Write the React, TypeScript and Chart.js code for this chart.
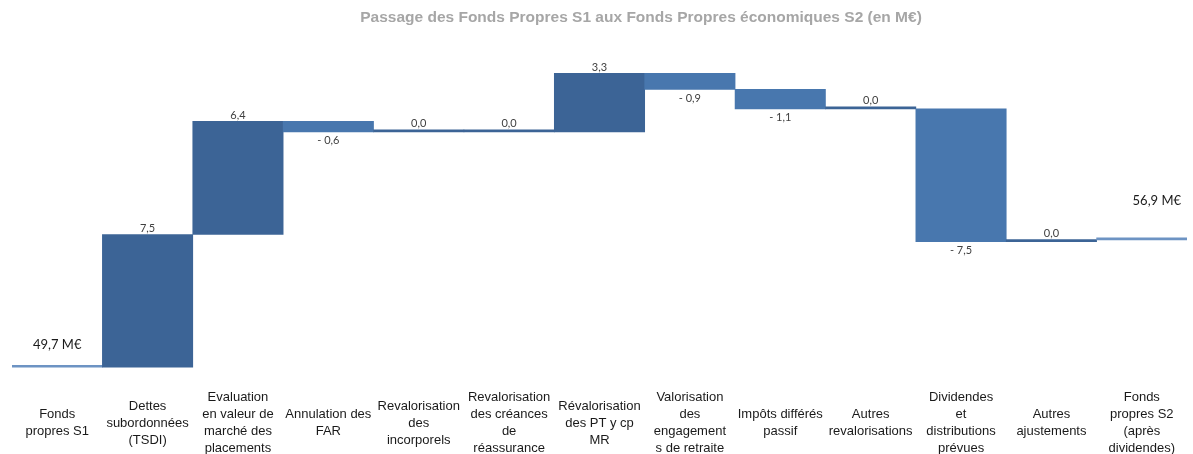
import React, { useEffect, useRef } from 'react';
import { Chart, registerables } from 'chart.js';

Chart.register(...registerables);

const chartTitle = 'Passage des Fonds Propres S1 aux Fonds Propres économiques S2 (en M€)';

const categories: string[][] = [
  ['Fonds', 'propres S1'],
  ['Dettes', 'subordonnées', '(TSDI)'],
  ['Evaluation', 'en valeur de', 'marché des', 'placements'],
  ['Annulation des', 'FAR'],
  ['Revalorisation', 'des', 'incorporels'],
  ['Revalorisation', 'des créances', 'de', 'réassurance'],
  ['Révalorisation', 'des PT y cp', 'MR'],
  ['Valorisation', 'des', 'engagement', 's de retraite'],
  ['Impôts différés', 'passif'],
  ['Autres', 'revalorisations'],
  ['Dividendes', 'et', 'distributions', 'prévues'],
  ['Autres', 'ajustements'],
  ['Fonds', 'propres S2', '(après', 'dividendes)'],
];

const startValue = 49.7;
const deltas = [7.5, 6.4, -0.6, 0.0, 0.0, 3.3, -0.9, -1.1, 0.0, -7.5, 0.0];
const endValue = 56.9;

const yMin = 48.64;
const yMax = 68.19;

const COLOR_UP = '#3c6496';
const COLOR_DOWN = '#4877ae';
const COLOR_ZERO = '#3c6496';
const COLOR_TOTAL = '#6d93c3';

function fmt(v: number): string {
  const s = Math.abs(v).toFixed(1).replace('.', ',');
  return v < 0 ? '- ' + s : s;
}

export default function App() {
  const ref = useRef<HTMLCanvasElement | null>(null);

  useEffect(() => {
    if (!ref.current) return;

    const ranges: [number, number][] = [];
    const colors: string[] = [];
    const kinds: string[] = [];
    ranges.push([startValue, startValue]);
    colors.push(COLOR_TOTAL);
    kinds.push('total');
    let run = startValue;
    deltas.forEach((d) => {
      ranges.push([run, run + d]);
      colors.push(d > 0 ? COLOR_UP : d < 0 ? COLOR_DOWN : COLOR_ZERO);
      kinds.push('delta');
      run += d;
    });
    ranges.push([endValue, endValue]);
    colors.push(COLOR_TOTAL);
    kinds.push('total');

    const labelPlugin = {
      id: 'wfLabels',
      afterDatasetsDraw(chart: any) {
        const ctx = chart.ctx;
        const meta = chart.getDatasetMeta(0);
        ctx.save();
        ctx.textAlign = 'center';
        ctx.textBaseline = 'middle';
        meta.data.forEach((el: any, i: number) => {
          const top = Math.min(el.y, el.base);
          const bottom = Math.max(el.y, el.base);
          if (kinds[i] === 'total') {
            ctx.font = '13px Lato, "Open Sans", sans-serif';
            ctx.fillStyle = '#1a1a1a';
            const v = i === 0 ? startValue : endValue;
            const txt = fmt(v) + ' M€';
            if (i === 0) ctx.fillText(txt, el.x, top - 20);
            else ctx.fillText(txt, el.x + 15, top - 37);
          } else {
            const d = deltas[i - 1];
            ctx.font = '11px Lato, "Open Sans", sans-serif';
            ctx.fillStyle = '#404040';
            if (d < 0) ctx.fillText(fmt(d), el.x, bottom + 9);
            else ctx.fillText(fmt(d), el.x, top - 6);
          }
        });
        ctx.restore();
      },
    };

    const titlePlugin = {
      id: 'wfTitle',
      afterDraw(chart: any) {
        const ctx = chart.ctx;
        ctx.save();
        ctx.font = 'bold 15.5px "Liberation Sans", Arial, sans-serif';
        ctx.fillStyle = '#a6a6a6';
        ctx.textAlign = 'center';
        ctx.textBaseline = 'middle';
        ctx.fillText(chartTitle, 641, 18);
        ctx.restore();
      },
    };

    const chart = new Chart(ref.current, {
      type: 'bar',
      data: {
        labels: categories,
        datasets: [
          {
            data: ranges,
            backgroundColor: colors,
            borderWidth: 0,
            barPercentage: 1,
            categoryPercentage: 1,
            minBarLength: 2,
          },
        ],
      },
      options: {
        responsive: false,
        animation: false,
        layout: { padding: { top: 40, left: 12, right: 6, bottom: 0 } },
        plugins: {
          legend: { display: false },
          title: { display: false },
          tooltip: { enabled: false },
        },
        scales: {
          x: {
            grid: { display: false, drawTicks: false },
            border: { display: false },
            ticks: {
              font: { family: '"Liberation Sans", Arial, sans-serif', size: 13, lineHeight: '17px' },
              color: '#1a1a1a',
              maxRotation: 0,
              minRotation: 0,
              autoSkip: false,
              crossAlign: 'center',
              padding: 11.5,
            },
          },
          y: { display: false, min: yMin, max: yMax },
        },
      },
      plugins: [labelPlugin, titlePlugin],
    } as any);

    return () => chart.destroy();
  }, []);

  return (
    <div
      style={{
        position: 'absolute',
        left: 0,
        top: 0,
        width: 1193,
        height: 454,
        overflow: 'hidden',
        background: '#ffffff',
      }}
    >
      <canvas ref={ref} width={1193} height={477} style={{ display: 'block' }} />
    </div>
  );
}
